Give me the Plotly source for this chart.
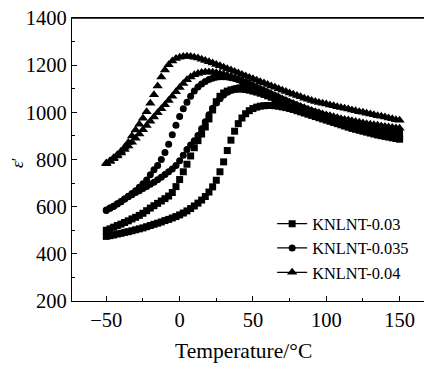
import plotly.graph_objects as go

temperature = [-50, -47.5, -45, -42.5, -40, -37.5, -35, -32.5, -30, -27.5, -25, -22.5, -20, -17.5, -15, -12.5,
               -10, -7.5, -5, -2.5, 0, 2.5, 5, 7.5, 10, 12.5, 15, 17.5, 20, 22.5, 25, 27.5, 30, 32.5, 35, 37.5,
               40, 42.5, 45, 47.5, 50, 52.5, 55, 57.5, 60, 62.5, 65, 67.5, 70, 72.5, 75, 77.5, 80, 82.5, 85, 87.5,
               90, 92.5, 95, 97.5, 100, 102.5, 105, 107.5, 110, 112.5, 115, 117.5, 120, 122.5, 125, 127.5, 130,
               132.5, 135, 137.5, 140, 142.5, 145, 147.5, 150]

# KNLNT-0.04 (triangles), two curves
tri_a = [785, 795, 807, 820, 835, 852, 872, 900, 925, 950, 975, 1003, 1038, 1075, 1112, 1150,
         1180, 1202, 1218, 1228, 1234, 1237, 1238, 1237, 1234, 1230, 1225, 1220, 1215, 1209, 1203, 1197,
         1191, 1185, 1179, 1173, 1167, 1160, 1154, 1148, 1142, 1136, 1130, 1124, 1118, 1112, 1106, 1100,
         1094, 1088, 1082, 1077, 1071, 1066, 1060, 1055, 1050, 1046, 1042, 1038, 1035, 1031, 1028, 1024,
         1021, 1017, 1014, 1010, 1007, 1003, 1000, 996, 993, 990, 986, 983, 980, 976, 973, 969, 966]
tri_b = [782, 792, 803, 815, 828, 842, 857, 873, 890, 908, 926, 944, 962, 980, 998, 1015,
         1032, 1050, 1068, 1087, 1105, 1122, 1138, 1150, 1159, 1165, 1169, 1171, 1171, 1170, 1168, 1165,
         1161, 1157, 1152, 1146, 1140, 1134, 1127, 1120, 1113, 1106, 1099, 1092, 1085, 1078, 1071, 1064,
         1057, 1050, 1043, 1037, 1031, 1025, 1019, 1013, 1008, 1003, 998, 993, 989, 985, 981, 977,
         973, 970, 967, 964, 961, 958, 955, 952, 950, 947, 945, 942, 940, 938, 936, 934, 932]

# KNLNT-0.035 (circles), two curves
cir_a = [586, 594, 602, 611, 621, 632, 644, 656, 668, 682, 697, 713, 735, 757, 775, 800,
         830, 865, 905, 945, 982, 1015, 1043, 1068, 1090, 1107, 1120, 1131, 1139, 1145, 1149, 1151,
         1151, 1150, 1147, 1143, 1138, 1132, 1126, 1119, 1112, 1105, 1098, 1091, 1084, 1077, 1070, 1063,
         1056, 1049, 1042, 1035, 1029, 1023, 1017, 1011, 1005, 1000, 995, 990, 985, 980, 976, 972,
         968, 964, 960, 957, 953, 950, 947, 944, 941, 938, 935, 932, 929, 926, 923, 920, 917]
cir_b = [584, 593, 602, 612, 622, 632, 642, 651, 660, 668, 677, 686, 695, 704, 714, 725,
         736, 748, 760, 775, 795, 818, 842, 862, 880, 902, 930, 960, 990, 1017, 1040, 1058,
         1073, 1085, 1094, 1100, 1104, 1106, 1106, 1104, 1100, 1095, 1090, 1084, 1078, 1072, 1065, 1058,
         1051, 1044, 1037, 1031, 1024, 1018, 1012, 1006, 1000, 995, 990, 985, 980, 975, 970, 966,
         962, 958, 954, 950, 946, 943, 939, 936, 933, 929, 926, 923, 920, 917, 914, 911, 908]

# KNLNT-0.03 (squares), two curves
sq_a = [500, 506, 513, 520, 526, 533, 540, 548, 555, 563, 572, 583, 594, 604, 614, 624,
        634, 645, 660, 685, 715, 748, 780, 815, 850, 880, 908, 938, 972, 1010, 1045, 1068,
        1082, 1090, 1095, 1098, 1099, 1099, 1097, 1094, 1090, 1086, 1081, 1076, 1070, 1064, 1058, 1052,
        1046, 1040, 1034, 1028, 1022, 1016, 1010, 1004, 998, 993, 988, 983, 978, 973, 968, 964,
        959, 955, 951, 947, 943, 939, 935, 931, 927, 923, 919, 916, 912, 909, 906, 903, 900]
sq_b = [474, 477, 480, 484, 487, 491, 494, 498, 502, 506, 510, 515, 520, 525, 530, 535,
        541, 546, 552, 558, 565, 573, 582, 592, 603, 615, 628, 643, 662, 684, 712, 748,
        790, 838, 882, 920, 952, 976, 994, 1007, 1016, 1022, 1026, 1028, 1029, 1029, 1028, 1026,
        1023, 1020, 1016, 1012, 1007, 1002, 997, 992, 987, 982, 977, 972, 967, 962, 957, 952,
        947, 942, 937, 932, 928, 924, 920, 916, 912, 908, 904, 901, 898, 895, 892, 889, 886]

x_ticks = [-50, 0, 50, 100, 150]
y_ticks = [200, 400, 600, 800, 1000, 1200, 1400]

FONT = "Liberation Serif, Times New Roman, Times, serif"

fig = go.Figure()

series = [
    ("KNLNT-0.03", "square", 7, [sq_a, sq_b]),
    ("KNLNT-0.035", "circle", 7, [cir_a, cir_b]),
    ("KNLNT-0.04", "triangle-up", 9, [tri_a, tri_b]),
]
for name, sym, size, curves in series:
    for ys in curves:
        fig.add_trace(go.Scatter(
            x=temperature, y=ys, name=name, legendgroup=name, showlegend=False,
            mode="markers",
            marker=dict(symbol=sym, size=size, color="black", line=dict(width=0)),
        ))
    # legend entry (line + symbol), no data of its own
    fig.add_trace(go.Scatter(
        x=[None], y=[None], name=name, legendgroup=name, showlegend=True,
        mode="lines+markers",
        line=dict(color="black", width=1.3),
        marker=dict(symbol=sym, size=size, color="black", line=dict(width=0)),
    ))

fig.update_layout(
    width=424, height=357,
    margin=dict(l=64, r=0, t=10, b=64),
    paper_bgcolor="white", plot_bgcolor="white",
    font=dict(family=FONT, color="black", size=20.5),
    showlegend=True,
    legend=dict(x=0.556, y=0.334, xanchor="left", yanchor="top",
                bgcolor="rgba(0,0,0,0)", font=dict(size=16.4, family=FONT),
                tracegroupgap=0, itemwidth=30),
    xaxis=dict(range=[-73.4, 172.1], showline=True, linecolor="black", linewidth=1.4,
               mirror=True, ticks="inside", ticklen=5, tickwidth=1.2, tickcolor="black",
               tickvals=x_ticks, showgrid=False, zeroline=False, ticklabeloverflow="allow",
               minor=dict(ticks="inside", ticklen=3, tickwidth=1.2, tickcolor="black",
                          dtick=25, tick0=-75, showgrid=False),
               tickfont=dict(size=20.5)),
    yaxis=dict(range=[200, 1400], showline=True, linecolor="black", linewidth=1.4,
               ticks="inside", ticklen=5, tickwidth=1.2, tickcolor="black",
               tickvals=y_ticks, showgrid=False, zeroline=False, ticklabeloverflow="allow",
               minor=dict(ticks="inside", ticklen=3, tickwidth=1.2, tickcolor="black",
                          dtick=100, tick0=200, showgrid=False),
               tickfont=dict(size=20.5)),
    shapes=[
        dict(type="line", xref="paper", yref="paper", x0=0, x1=1, y0=1, y1=1,
             line=dict(color="black", width=1.4), layer="above"),
    ],
    annotations=[
        dict(text="Temperature/°C", xref="x", yref="paper", x=43.4, y=-0.177,
             xanchor="center", yanchor="middle", showarrow=False, font=dict(size=21.5)),
        dict(text="<i>ε</i>′", xref="paper", yref="paper", x=-0.1528, y=0.4876,
             xanchor="center", yanchor="middle", showarrow=False, textangle=-90,
             font=dict(size=17)),
    ],
)

fig.write_html("out.html")
